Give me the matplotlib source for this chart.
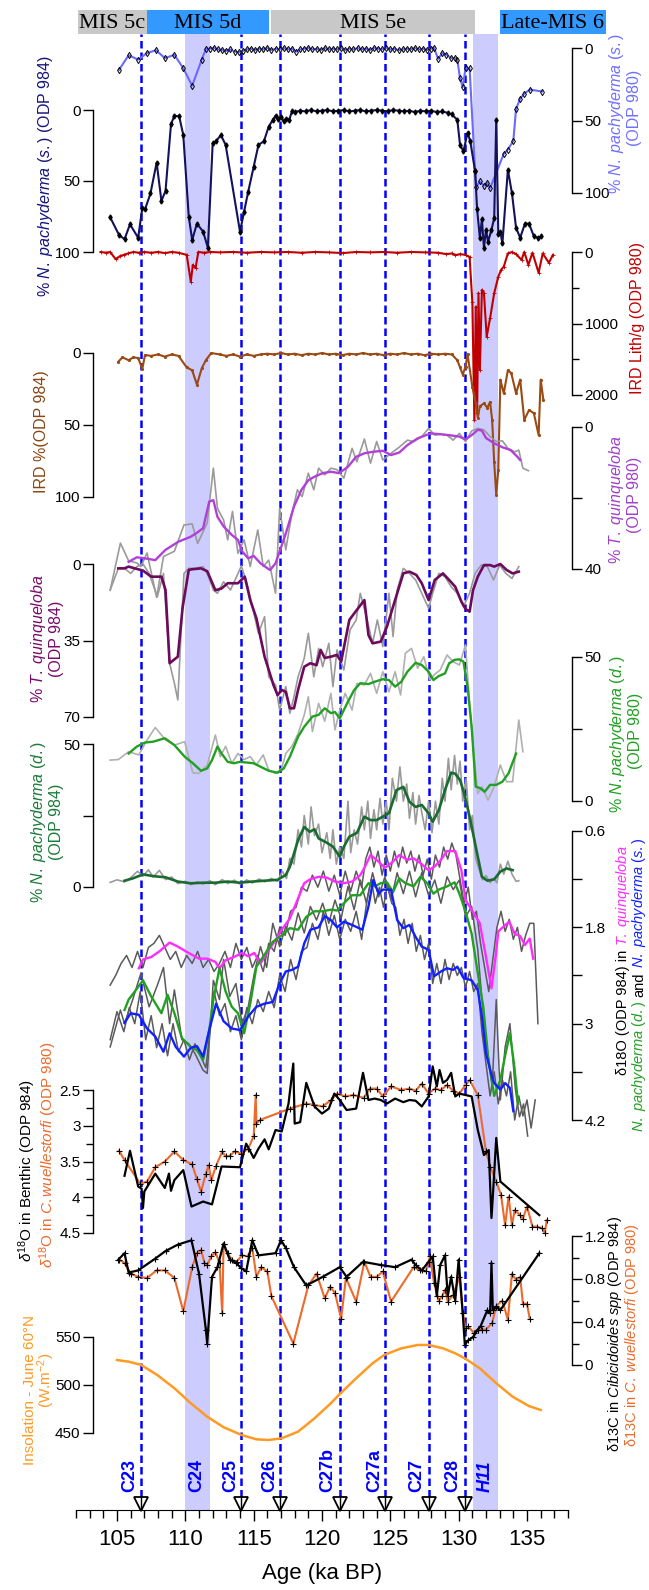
import matplotlib
matplotlib.use('Agg')
import matplotlib.pyplot as plt
from matplotlib.patches import Rectangle

plt.rcParams['font.family'] = ['Liberation Sans', 'DejaVu Sans']
plt.rcParams['mathtext.fontset'] = 'custom'
plt.rcParams['mathtext.rm'] = 'Liberation Sans'
plt.rcParams['mathtext.it'] = 'Liberation Sans:italic'
plt.rcParams['mathtext.bf'] = 'Liberation Sans:bold'

# ---------------- data (age ka BP, value) ----------------
events = [106.75, 114.1, 116.95, 121.3, 124.6, 127.8, 130.45]
event_labels = ['C23', 'C24', 'C25', 'C26', 'C27b', 'C27a', 'C27', 'C28', 'H11']
event_label_ages = [105.95, 110.85, 113.3, 116.2, 120.4, 123.85, 126.9, 129.55, 131.95]
bands = [(110.0, 111.8), (131.05, 132.9)]
mis_names = ['MIS 5c', 'MIS 5d', 'MIS 5e', 'Late-MIS 6']
mis_spans = [(102.15, 107.2), (107.2, 116.1), (116.3, 131.2), (133.0, 140.8)]
mis_colors = ['#c8c8c8', '#3399ff', '#c8c8c8', '#3399ff']

np980s = [(105.15, 15), (105.85, 5), (106.55, 8), (107.2, 3.5), (107.85, 1.5), (108.5, 7), (109.2, 4.7),
          (109.85, 14), (110.5, 26), (111.2, 8), (111.5, 0.7), (111.8, 0.5), (112.1, 0), (112.4, 1), (112.7, 1.5),
          (113.0, 2), (113.3, 1), (113.6, 2.5), (113.9, 3), (114.2, 2), (114.5, 1), (114.8, 0.5), (115.1, 1.5),
          (115.4, 0.5), (115.7, 1), (116.0, 0), (116.3, 1.5), (116.6, 0.5), (116.9, 1), (117.2, 0), (117.5, 1),
          (117.8, 0.5), (118.1, 2.5), (118.4, 1), (118.7, 0.5), (119.0, 0), (119.3, 1), (119.6, 0.5), (119.9, 1.5),
          (120.2, 0), (120.5, 1), (120.8, 0.5), (121.1, 1), (121.4, 0), (121.7, 1.5), (122.0, 0.5), (122.3, 1),
          (122.6, 0), (122.9, 1), (123.2, 0.5), (123.5, 1.5), (123.8, 0), (124.1, 0.5), (124.4, 1), (124.7, 0),
          (125.0, 1), (125.3, 0.5), (125.6, 1.5), (125.9, 1), (126.2, 0.5), (126.5, 1), (126.8, 0), (127.1, 1),
          (127.4, 0.5), (127.7, 1.5), (128.0, 0.5), (128.2, 0), (128.5, 7.5), (128.8, 3.5), (129.1, 4.7),
          (129.45, 7), (129.75, 7), (129.9, 8), (130.1, 21), (130.3, 27), (130.5, 14), (130.8, 14), (131.2, 85),
          (131.3, 95.6), (131.55, 92), (131.85, 95), (132.1, 93), (132.3, 96.6), (133.3, 73), (133.6, 70),
          (134.0, 64), (134.2, 42), (134.5, 35), (134.8, 31.5), (135.2, 28.7), (136.1, 30)]

np984s = [(104.5, 75.6), (105.15, 88), (105.55, 91), (105.95, 80.5), (106.55, 90), (106.85, 69), (107.05, 70),
          (107.45, 58.7), (107.9, 37), (108.25, 64), (108.55, 57), (108.95, 10), (109.2, 4), (109.55, 4.5),
          (109.85, 17.6), (110.25, 75), (110.5, 91.5), (110.85, 80), (111.3, 85.7), (111.65, 97), (112.0, 23.5),
          (112.25, 22), (112.6, 17.6), (112.95, 24.6), (114.0, 85.7), (114.3, 71.6), (114.6, 57.5), (115.0, 40),
          (115.35, 24.6), (115.75, 22), (116.1, 11.7), (116.4, 7), (116.6, 4), (116.8, 6), (117.0, 5), (117.2, 8),
          (117.4, 6), (117.6, 7), (117.8, 1), (118.0, 1.5), (118.4, 0.5), (118.8, 1), (119.2, 0), (119.6, 1),
          (120.0, 0.5), (120.4, 0), (120.8, 1), (121.2, 0.5), (121.6, 0), (122.0, 1), (122.4, 0.5), (122.8, 0),
          (123.2, 1), (123.6, 0.5), (124.0, 0), (124.4, 0.5), (124.8, 1), (125.2, 0), (125.6, 0.5), (126.0, 1),
          (126.4, 0.5), (126.8, 1.5), (127.2, 0.5), (127.6, 1), (128.0, 0.5), (128.4, 1.5), (128.8, 1), (129.2, 2),
          (129.5, 3), (129.9, 7), (130.1, 24.6), (130.35, 29), (130.65, 16), (130.85, 22), (131.2, 43),
          (131.35, 70), (131.55, 90), (131.7, 77), (131.85, 97), (132.0, 84.5), (132.15, 92.7), (132.4, 84.5),
          (132.6, 76), (132.75, 7), (132.9, 87), (133.05, 85.7), (133.2, 94), (133.6, 42), (133.9, 58.7),
          (134.2, 83), (134.5, 90), (134.85, 80), (135.15, 80), (135.5, 89), (135.8, 90), (136.05, 89)]

ird980 = [(103.8, 0), (104.2, 10), (104.5, 0), (104.9, 100), (105.2, 60), (105.5, 40), (105.8, 20), (106.2, 0),
          (106.6, 10), (107.0, 0), (107.5, 10), (108.0, 0), (108.5, 15), (109.0, 0), (109.5, 10), (110.1, 40),
          (110.4, 415), (110.55, 180), (110.75, 225), (110.95, 0), (111.4, 10), (111.8, 0), (112.5, 5), (113.5, 0),
          (114.5, 10), (115.5, 0), (116.5, 5), (117.5, 0), (118.5, 10), (119.5, 0), (120.5, 5), (121.5, 15),
          (122.5, 0), (123.5, 5), (124.5, 0), (125.5, 10), (126.5, 0), (127.5, 5), (128.5, 10), (129.1, 30),
          (129.5, 20), (129.75, 45), (130.1, 30), (130.5, 40), (130.8, 70), (131.0, 700), (131.15, 2350),
          (131.25, 765), (131.35, 2250), (131.45, 575), (131.55, 1650), (131.7, 530), (131.85, 575),
          (132.05, 1185), (132.3, 925), (132.6, 575), (132.9, 345), (133.1, 250), (133.3, 205), (133.6, 20),
          (133.9, 0), (134.2, 30), (134.6, 110), (134.8, 0), (135.1, 180), (135.4, 10), (135.85, 290),
          (136.15, 20), (136.6, 150), (136.9, 40)]

ird984 = [(105.1, 6), (105.4, 3), (105.85, 5), (106.2, 3), (106.55, 3.5), (106.85, 11), (107.05, 1.4), (107.5, 2),
          (108.0, 1), (108.5, 2.5), (109.0, 1), (109.5, 2), (110.1, 10), (110.5, 12), (110.85, 22), (111.2, 10.6),
          (111.5, 5), (111.9, 0), (112.5, 1), (113.0, 2), (113.5, 1), (114.0, 2.5), (114.5, 1), (115.0, 2),
          (115.5, 1), (116.0, 0.5), (116.5, 1), (117.0, 0), (117.5, 1), (118.0, 0.5), (118.5, 1.5), (119.0, 0.5),
          (119.5, 1), (120.0, 0), (120.5, 1), (121.0, 0.5), (121.5, 1.5), (122.0, 0.5), (122.5, 1), (123.0, 0),
          (123.5, 1), (124.0, 0.5), (124.5, 1.5), (125.0, 0.5), (125.5, 1), (126.0, 0), (126.5, 1), (127.0, 0.5),
          (127.5, 1.5), (128.0, 0.5), (128.5, 1), (129.0, 0.5), (129.5, 1), (129.9, 5), (130.1, 10), (130.3, 15),
          (130.5, 9.5), (130.65, 1), (131.0, 23.4), (131.25, 35), (131.4, 45), (131.55, 37), (131.85, 35),
          (132.1, 38), (132.3, 34), (132.45, 46.5), (132.6, 76), (132.75, 98.6), (132.9, 81), (133.05, 18.5),
          (133.3, 28), (133.6, 12), (133.85, 14), (134.2, 28), (134.5, 18.5), (134.8, 46.5), (135.15, 39.6),
          (135.5, 41.8), (135.85, 57), (136.0, 18.5), (136.2, 32.6)]

tq980_smooth = [(105.85, 38), (106.45, 36.7), (107.05, 37), (107.8, 37.5), (108.55, 34.6), (109.5, 32.3),
                (110.4, 30.9), (110.85, 29.8), (111.3, 28.5), (111.75, 21), (112.05, 20.6), (112.35, 25.3),
                (112.8, 28), (113.4, 30.4), (113.85, 31.8), (114.15, 35), (114.6, 37), (115.0, 36.3),
                (115.5, 38.4), (116.2, 40.3), (116.6, 38.4), (117.35, 30), (117.95, 22.4), (118.5, 17.7),
                (119.0, 15), (119.45, 14), (120.05, 13), (120.65, 12.6), (121.25, 13), (121.9, 11.2), (122.5, 8.4),
                (123.1, 7.4), (123.7, 7), (124.45, 6.7), (125.05, 7.9), (125.65, 7.2), (126.25, 5.1), (127.0, 3.2),
                (127.95, 1.8), (128.55, 2), (129.3, 2.3), (130.05, 2.7), (130.5, 3.5), (130.95, 2.3), (131.4, 0.8),
                (131.7, 1), (132.0, 3.1), (132.6, 4.6), (133.2, 5.7), (133.8, 6.5), (134.3, 8.4), (134.5, 9.3)]

tq980_raw = [(104.5, 46), (105.25, 32.7), (105.85, 37.7), (106.45, 38.3), (106.75, 39.3), (107.2, 35.5),
             (107.9, 48), (108.4, 36.5), (109.2, 35), (109.9, 27.6), (110.5, 27.3), (110.9, 32.8), (111.6, 27),
             (112.05, 11.6), (112.35, 22.9), (112.8, 26.2), (113.1, 31.8), (113.45, 23.8), (113.85, 35.6),
             (114.3, 31.8), (114.75, 39.3), (115.3, 29), (115.7, 39.3), (116.1, 37.5), (116.6, 46.8), (116.9, 22.9),
             (117.35, 34.6), (117.8, 24.3), (118.2, 17.7), (118.55, 19.6), (119.0, 13), (119.4, 17.7),
             (119.75, 11.6), (120.2, 13.5), (120.65, 11.6), (121.1, 12), (121.6, 14.4), (122.2, 6), (122.55, 9.8),
             (123.1, 3.4), (123.55, 10.2), (124.0, 4.1), (124.45, 9.3), (125.05, 7.4), (125.65, 5.7),
             (126.25, 3.7), (126.7, 4.1), (127.3, 2.7), (127.8, 0.4), (128.25, 2.3), (128.7, 2), (129.15, 2.3),
             (129.6, 3.7), (130.05, 1.8), (130.5, 4.1), (130.95, 1.1), (131.4, 0.4), (131.85, 0.8), (132.3, 2.7),
             (132.75, 4.1), (133.2, 3.9), (133.6, 6), (134.1, 7), (134.4, 6.5), (134.7, 11.6), (135.1, 12.3)]

tq984_smooth = [(105.1, 2), (105.55, 2), (105.85, 1.2), (106.3, 2), (106.9, 3), (107.5, 5.8), (108.25, 5.8),
                (108.55, 11.9), (108.85, 45.4), (109.45, 42.4), (109.8, 20), (110.25, 2.7), (110.5, 2.4),
                (111.15, 2), (111.6, 3.3), (112.2, 12), (112.65, 11.2), (113.1, 8.8), (113.85, 8.8), (114.35, 5.8),
                (114.75, 16.5), (115.2, 24.8), (115.8, 42.4), (116.45, 55.4), (116.75, 60), (117.05, 57.6),
                (117.35, 58.5), (117.65, 66), (117.95, 66), (118.25, 57.6), (118.7, 47), (119.15, 45.4),
                (119.6, 46.3), (119.9, 39.3), (120.2, 43), (120.65, 42.4), (121.1, 41.6), (121.4, 44.7), (122.0, 25.6),
                (122.55, 21), (123.1, 16.5), (123.4, 32.5), (123.7, 36.3), (124.3, 35.5), (124.75, 28.7),
                (125.5, 13.4), (125.95, 4.3), (126.4, 3.5), (126.9, 5), (127.3, 8.8), (127.8, 16.5), (128.25, 7.3),
                (128.85, 4.3), (129.3, 7.3), (129.75, 10.4), (130.2, 17.2), (130.5, 20.6), (130.8, 21.8),
                (131.05, 12), (131.4, 5.8), (131.85, 0.5), (132.3, 0.5), (132.6, 1.2), (133.05, 0), (133.5, 2.7),
                (133.95, 4.3), (134.4, 3.5)]

tq984_raw = [(104.5, 11.9), (105.1, 2), (105.55, 2), (106.0, 4.3), (106.45, 1.2), (106.9, 0), (107.35, 4.3),
             (107.95, 15), (108.4, 4.3), (108.85, 45.4), (109.2, 54.6), (109.45, 62.2), (109.9, 4.3), (110.25, 2),
             (110.7, 2), (111.3, 1.2), (111.6, 4.3), (112.05, 11.9), (112.35, 13.4), (112.8, 8.1), (113.3, 11.9),
             (113.75, 5.8), (114.1, 0.9), (114.5, 8.8), (114.9, 19.5), (115.35, 31.7), (115.8, 24.1),
             (116.1, 51.6), (116.6, 55.4), (116.9, 66.8), (117.35, 56.1), (117.65, 68.3), (117.95, 60.7),
             (118.25, 51.6), (118.7, 43.1), (119.0, 31.7), (119.4, 51.6), (119.75, 38.6), (120.05, 47),
             (120.5, 36.3), (120.8, 56.1), (121.1, 39.3), (121.6, 48.5), (122.05, 30.2), (122.5, 25.6),
             (122.8, 13.4), (123.25, 24.1), (123.7, 36.3), (124.05, 25.6), (124.45, 37.8), (124.9, 13.4),
             (125.2, 33.2), (125.5, 11.9), (125.95, 2), (126.4, 4.3), (126.85, 7.3), (127.3, 13.4), (127.8, 20.3),
             (128.1, 13.4), (128.55, 4.3), (129.0, 5.8), (129.45, 10.4), (129.9, 13.4), (130.35, 19.5),
             (130.8, 13.4), (131.2, 4.3), (131.65, 0.5), (132.1, 1.2), (132.55, 7.3), (133.0, 0.5), (133.45, 4.3),
             (133.9, 6.6), (134.4, 1.2)]

np980d_smooth = [(105.85, 16.5), (106.45, 18.9), (107.05, 20.3), (107.65, 20.6), (108.5, 21.8), (109.2, 19.4),
                 (109.95, 15.4), (110.55, 13.1), (111.15, 10.5), (111.6, 11.3), (111.95, 14.2), (112.35, 18.9),
                 (112.65, 16.5), (113.1, 13.6), (113.55, 13.1), (114.0, 13.6), (114.6, 13.3), (115.0, 13.1),
                 (115.5, 11.9), (116.1, 10.5), (116.75, 9.8), (117.2, 11.3), (117.65, 15.4), (118.25, 22.3),
                 (118.7, 25.8), (119.3, 29.3), (119.75, 29.9), (120.2, 32.2), (120.65, 30.5), (120.95, 30.9),
                 (121.3, 28.7), (121.9, 34.5), (122.35, 38.5), (122.8, 40.9), (123.4, 40.6), (123.85, 41.4),
                 (124.45, 42.3), (124.9, 42), (125.35, 39.7), (125.8, 41.4), (126.25, 44.9), (126.85, 48),
                 (127.3, 47.2), (127.8, 44.9), (128.15, 42), (128.55, 43.4), (129.0, 44.3), (129.3, 47.8),
                 (129.7, 49), (130.05, 49.2), (130.35, 48.4), (130.65, 39.7), (130.95, 25.8), (131.25, 5),
                 (131.6, 4.4), (131.9, 3.2), (132.3, 5.6), (132.75, 5.6), (133.2, 6.7), (133.65, 9.6), (134.2, 16.5)]

np980d_raw = [(104.5, 14.2), (105.1, 14.4), (105.85, 17.1), (106.6, 16), (107.2, 21.2), (107.8, 25.5),
              (108.55, 21.2), (109.2, 19.4), (109.95, 20.6), (110.55, 9.8), (111.0, 9.6), (111.6, 12.5),
              (112.2, 22.9), (112.55, 15.4), (112.95, 19), (113.4, 13.1), (113.85, 16.5), (114.3, 14.4),
              (114.75, 15.4), (115.2, 12.5), (115.7, 16), (116.1, 10.7), (116.6, 9.6), (117.05, 11.3),
              (117.35, 16.5), (117.8, 19), (118.25, 23.4), (118.7, 29.9), (119.0, 36.2), (119.3, 24.1),
              (119.75, 33.9), (120.2, 27.7), (120.65, 37.4), (120.95, 24.7), (121.3, 31.6), (121.7, 37.4),
              (122.2, 31.6), (122.55, 40.8), (123.1, 40.3), (123.55, 44.3), (124.0, 37.4), (124.45, 44.9),
              (124.9, 37.9), (125.35, 44.9), (125.75, 36.8), (126.1, 51.3), (126.55, 53), (127.0, 46.1),
              (127.45, 50.1), (127.9, 42), (128.2, 43.8), (128.65, 45.5), (129.15, 50.7), (129.6, 48.4),
              (130.05, 47.2), (130.5, 54.2), (130.8, 33.9), (131.1, 16.5), (131.4, 2.6), (131.7, 5), (132.15, 0.3),
              (132.6, 5), (133.05, 12.5), (133.5, 6.7), (133.95, 6.7), (134.4, 28.1), (134.7, 17.1)]

np984d_smooth = [(105.55, 2.2), (106.15, 3), (106.9, 4.4), (107.65, 3.8), (108.55, 3.4), (109.45, 1.9),
                 (110.4, 1.3), (111.3, 1.5), (112.2, 1.5), (113.1, 1.9), (114.0, 1.5), (114.9, 1.9), (115.8, 2.2),
                 (116.75, 2.5), (117.35, 4.2), (117.65, 7.1), (117.95, 11.7), (118.25, 16.4), (118.7, 21),
                 (119.1, 19.3), (119.45, 20.2), (119.75, 17), (120.35, 15.5), (120.8, 14.1), (121.3, 10.6),
                 (121.6, 14.1), (122.0, 17.6), (122.55, 18.9), (123.1, 24.6), (123.55, 23.4), (124.0, 23.4),
                 (124.45, 24.6), (124.9, 25.8), (125.45, 33.9), (125.95, 35), (126.4, 29.8), (126.85, 28),
                 (127.3, 28.7), (127.8, 25.8), (128.1, 22.8), (128.55, 26.9), (129.0, 33.9), (129.45, 40),
                 (129.75, 39.6), (130.1, 37.4), (130.4, 32.8), (130.8, 24.6), (131.25, 14.1), (131.7, 3.6),
                 (132.1, 2.2), (132.6, 2.7), (133.05, 5.4), (133.5, 6.5), (133.95, 5.9)]

np984d_raw = [(104.5, 1.6), (105.0, 2.5), (105.55, 1.8), (106.0, 3.2), (106.5, 5.5), (106.9, 3.8), (107.3, 6),
              (107.65, 3.5), (108.1, 5.8), (108.55, 2.6), (109.0, 3.5), (109.45, 1.2), (110.0, 2.0), (110.4, 0.8),
              (110.9, 1.8), (111.3, 1.0), (111.8, 2.2), (112.2, 0.8), (112.7, 2.6), (113.1, 1.2), (113.6, 2.4),
              (114.0, 1.0), (114.5, 2.5), (114.9, 1.4), (115.4, 2.8), (115.8, 1.8), (116.3, 3.0), (116.75, 2.0),
              (117.1, 5.5), (117.4, 3.0), (117.65, 10), (117.95, 8), (118.25, 20), (118.5, 14), (118.7, 25),
              (119.0, 15), (119.2, 28), (119.45, 18), (119.75, 22), (120.0, 12), (120.35, 19), (120.6, 10),
              (120.8, 20), (121.05, 8), (121.3, 14), (121.6, 10), (121.9, 30), (122.1, 12), (122.35, 20),
              (122.6, 15), (122.9, 28), (123.1, 20), (123.35, 30), (123.55, 17), (123.8, 27), (124.0, 20),
              (124.25, 31), (124.45, 22), (124.7, 30), (124.9, 20), (125.15, 38), (125.45, 30), (125.7, 42),
              (125.95, 30), (126.2, 36), (126.4, 24), (126.65, 33), (126.85, 22), (127.1, 32), (127.3, 26),
              (127.55, 20), (127.8, 30), (128.05, 19), (128.3, 30), (128.55, 22), (128.8, 38), (129.0, 30),
              (129.25, 45), (129.45, 34), (129.7, 46), (129.9, 36), (130.1, 44), (130.3, 30), (130.55, 38),
              (130.8, 20), (131.0, 25), (131.25, 10), (131.5, 6), (131.75, 2.5), (132.0, 4), (132.3, 1.5),
              (132.55, 3.0), (132.8, 1.5), (133.05, 8), (133.3, 4.5), (133.6, 9), (133.9, 4.5), (134.2, 2.0),
              (134.4, 2.2)]

d18o_tq = [(106.6, 2.31), (106.9, 2.2), (107.5, 2.17), (108.1, 2.1), (108.85, 1.99), (109.45, 2.04), (110.25, 2.12),
           (111.0, 2.19), (111.6, 2.19), (112.2, 2.23), (112.5, 2.31), (112.95, 2.21), (113.55, 2.17),
           (114.15, 2.12), (114.6, 2.16), (115.05, 2.12), (115.5, 2.25), (115.95, 2.12), (116.6, 1.96),
           (117.05, 1.83), (117.65, 1.69), (118.25, 1.44), (118.7, 1.25), (119.15, 1.2), (119.75, 1.17),
           (120.35, 1.18), (120.95, 1.23), (121.6, 1.25), (122.2, 1.23), (122.8, 1.15), (123.1, 1.06), (123.55, 0.9),
           (124.0, 0.96), (124.6, 1.06), (125.2, 0.98), (125.65, 0.9), (126.25, 0.96), (126.7, 0.94), (127.2, 1.0),
           (127.8, 1.09), (128.25, 1.04), (128.7, 0.96), (129.15, 0.85), (129.75, 0.85), (130.2, 1.09),
           (130.5, 1.46), (130.95, 1.58), (131.55, 1.75), (132.0, 2.17), (132.4, 2.56), (132.7, 2.17),
           (132.9, 1.85), (133.35, 1.78), (133.7, 1.73), (134.1, 1.88), (134.5, 1.91), (134.85, 2.02),
           (135.2, 1.94), (135.45, 2.19)]

d18o_npd = [(105.55, 2.83), (105.85, 2.7), (106.3, 2.6), (106.9, 2.46), (107.5, 2.66), (108.25, 2.87), (108.7, 2.64),
            (109.2, 2.87), (109.75, 3.18), (110.4, 3.29), (110.85, 3.33), (111.3, 3.45), (111.75, 3.08),
            (112.05, 2.7), (112.5, 2.31), (112.95, 2.6), (113.4, 2.79), (113.85, 2.87), (114.3, 3.12),
            (114.75, 2.75), (115.2, 2.29), (115.8, 2.14), (116.4, 1.98), (117.05, 1.9), (117.65, 1.81),
            (118.25, 1.83), (118.85, 1.67), (119.45, 1.6), (120.05, 1.6), (120.65, 1.58), (121.1, 1.59),
            (121.6, 1.5), (122.2, 1.4), (122.8, 1.4), (123.4, 1.25), (123.85, 1.29), (124.3, 1.25), (124.75, 1.24),
            (125.2, 1.36), (125.65, 1.19), (126.1, 1.25), (126.7, 1.29), (127.2, 1.17), (127.7, 1.25),
            (128.15, 1.38), (128.55, 1.33), (129.15, 1.29), (129.7, 1.24), (130.05, 1.38), (130.5, 1.6),
            (130.95, 1.88), (131.4, 2.37), (131.8, 2.79), (132.15, 3.41), (132.6, 3.9), (133.05, 3.7),
            (133.4, 3.4), (133.75, 3.12), (134.05, 3.5), (134.35, 4.0)]

d18o_nps = [(105.55, 2.99), (106.0, 2.87), (106.6, 2.89), (107.2, 3.06), (107.8, 3.16), (108.4, 3.35), (108.85, 3.12),
            (109.3, 3.29), (109.9, 3.41), (110.4, 3.3), (110.85, 3.28), (111.3, 3.41), (111.75, 3.08),
            (112.25, 2.75), (112.8, 2.97), (113.4, 3.06), (114.0, 3.08), (114.6, 2.91), (115.2, 2.79),
            (115.8, 2.75), (116.4, 2.73), (116.9, 2.5), (117.35, 2.35), (117.8, 2.33), (118.25, 2.29), (118.7, 2.0),
            (119.15, 1.83), (119.75, 1.8), (120.2, 1.66), (120.65, 1.71), (121.1, 1.8), (121.6, 1.73),
            (122.2, 1.77), (122.95, 1.83), (123.4, 1.54), (123.75, 1.21), (124.15, 1.38), (124.45, 1.33),
            (125.05, 1.33), (125.5, 1.71), (125.95, 1.81), (126.4, 1.77), (126.85, 1.92), (127.3, 2.04),
            (127.8, 2.08), (128.2, 2.41), (128.7, 2.35), (129.15, 2.31), (129.6, 2.33), (129.9, 2.29),
            (130.35, 2.43), (130.95, 2.46), (131.4, 2.58), (131.7, 2.91), (132.0, 3.37), (132.4, 3.64),
            (132.6, 3.74), (133.05, 3.82), (133.4, 3.74), (133.75, 3.8), (134.0, 4.09)]

d18o_raw_tq = [(104.5, 2.52), (104.9, 2.4), (105.3, 2.25), (105.7, 2.15), (106.1, 2.3), (106.5, 2.1), (106.9, 2.3),
               (107.3, 2.05), (107.7, 2.0), (108.1, 1.9), (108.5, 2.05), (108.9, 2.2), (109.3, 2.1), (109.7, 2.3),
               (110.1, 2.15), (110.5, 2.25), (110.9, 2.1), (111.3, 2.3), (111.7, 2.2), (112.1, 2.35), (112.5, 2.25),
               (112.9, 2.1), (113.3, 2.3), (113.7, 2.0), (114.1, 2.2), (114.5, 2.05), (114.9, 2.3), (115.3, 2.15),
               (115.7, 2.35), (116.1, 2.0), (116.5, 2.1), (116.9, 1.8), (117.3, 1.9), (117.7, 1.6), (118.1, 1.55),
               (118.5, 1.3), (118.9, 1.35), (119.3, 1.15), (119.7, 1.3), (120.1, 1.1), (120.5, 1.35), (120.9, 1.15),
               (121.3, 1.4), (121.7, 1.1), (122.1, 1.35), (122.5, 1.1), (122.9, 1.3), (123.2, 0.95), (123.5, 0.8),
               (123.8, 1.05), (124.1, 0.85), (124.4, 1.15), (124.7, 0.9), (125.0, 1.1), (125.3, 0.85), (125.6, 1.05),
               (125.9, 0.8), (126.2, 1.0), (126.5, 0.85), (126.8, 1.1), (127.1, 0.9), (127.4, 1.15), (127.7, 0.95),
               (128.0, 1.2), (128.3, 0.9), (128.6, 1.05), (128.9, 0.8), (129.2, 0.95), (129.5, 0.75), (129.8, 0.9),
               (130.1, 1.2), (130.4, 1.5), (130.7, 1.3), (131.0, 1.7), (131.3, 1.6), (131.6, 2.0), (131.9, 2.3),
               (132.2, 2.6), (132.5, 2.2), (132.8, 1.8), (133.1, 1.6), (133.4, 1.85), (133.7, 1.7), (134.0, 1.95),
               (134.3, 1.8), (134.6, 2.1), (134.9, 1.9), (135.2, 1.75), (135.5, 1.75), (135.8, 3.0)]

d18o_raw_npd = [(104.5, 3.29), (105.25, 2.83), (105.55, 3.0), (106.15, 2.7), (106.75, 2.37), (107.35, 2.79),
                (108.0, 2.5), (108.4, 2.3), (108.85, 3.0), (109.2, 2.58), (109.75, 3.2), (110.25, 3.25),
                (110.7, 3.37), (111.3, 3.58), (111.6, 3.62), (112.05, 2.46), (112.5, 2.7), (112.8, 2.2),
                (113.25, 2.66), (113.7, 2.5), (114.15, 3.0), (114.6, 2.79), (115.05, 2.37), (115.5, 2.04),
                (115.95, 2.3), (116.4, 1.75), (116.9, 2.04), (117.35, 1.79), (117.8, 1.96), (118.25, 1.62),
                (118.7, 1.87), (119.15, 1.54), (119.6, 1.71), (120.05, 1.5), (120.5, 1.75), (120.95, 1.46),
                (121.4, 1.69), (121.9, 1.29), (122.35, 1.58), (122.8, 1.21), (123.25, 1.5), (123.7, 1.12),
                (124.15, 1.42), (124.6, 1.17), (125.05, 1.46), (125.5, 1.12), (125.95, 1.38), (126.4, 1.1),
                (126.85, 1.42), (127.3, 1.12), (127.8, 1.4), (128.25, 1.21), (128.7, 1.5), (129.15, 1.17),
                (129.6, 1.33), (130.05, 1.21), (130.5, 1.67), (130.95, 1.54), (131.4, 2.08), (131.7, 2.7),
                (132.0, 3.2), (132.45, 3.78), (132.75, 2.7), (133.05, 3.95), (133.4, 3.29), (133.75, 3.0),
                (134.15, 3.82), (134.45, 4.16), (134.75, 4.0), (135.05, 4.4)]

d18o_raw_nps = [(104.5, 3.2), (105.0, 2.85), (105.5, 3.1), (105.9, 2.8), (106.3, 3.0), (106.7, 2.6), (107.1, 3.2),
                (107.5, 2.9), (107.9, 3.3), (108.3, 3.0), (108.7, 3.4), (109.1, 3.0), (109.5, 3.35), (109.9, 3.2),
                (110.3, 3.45), (110.7, 3.25), (111.1, 3.4), (111.5, 3.55), (111.8, 3.1), (112.1, 2.6), (112.5, 2.9),
                (112.9, 2.75), (113.3, 3.1), (113.7, 2.9), (114.1, 3.2), (114.5, 2.8), (114.9, 3.0), (115.3, 2.7),
                (115.7, 2.85), (116.1, 2.6), (116.5, 2.8), (116.9, 2.4), (117.3, 2.6), (117.7, 2.2), (118.1, 2.45),
                (118.5, 2.1), (118.9, 2.05), (119.3, 1.75), (119.7, 1.95), (120.1, 1.6), (120.5, 1.9), (120.9, 1.65),
                (121.3, 1.95), (121.7, 1.7), (122.1, 1.85), (122.5, 1.6), (122.9, 1.95), (123.3, 1.45), (123.6, 1.2),
                (123.9, 1.5), (124.2, 1.3), (124.5, 1.55), (124.8, 1.25), (125.1, 1.5), (125.4, 1.55), (125.7, 1.9),
                (126.0, 1.7), (126.3, 2.0), (126.6, 1.75), (126.9, 2.1), (127.2, 1.9), (127.5, 2.2), (127.8, 2.0),
                (128.1, 2.5), (128.4, 2.25), (128.7, 2.5), (129.0, 2.2), (129.3, 2.45), (129.6, 2.25), (129.9, 2.4),
                (130.2, 2.3), (130.5, 2.55), (130.8, 2.35), (131.1, 2.6), (131.4, 2.5), (131.7, 3.1), (132.0, 3.5),
                (132.3, 3.9), (132.6, 3.6), (132.9, 4.0), (133.2, 3.7), (133.5, 3.9), (133.8, 3.6), (134.1, 4.2),
                (134.4, 3.9), (134.7, 4.15), (135.0, 3.95), (135.3, 4.3), (135.6, 3.95)]

benth_cw = [(105.15, 3.35), (105.55, 3.48), (106.7, 3.81), (107.2, 3.78), (107.8, 3.58), (108.5, 3.5), (109.2, 3.36),
            (109.85, 3.48), (110.5, 3.54), (110.85, 3.75), (111.15, 3.92), (111.5, 3.67), (111.7, 3.55),
            (111.9, 3.76), (112.25, 3.56), (112.7, 3.36), (112.95, 3.43), (113.25, 3.42), (113.6, 3.36),
            (114.1, 3.39), (114.6, 3.32), (115.0, 3.15), (115.15, 2.57), (115.2, 2.97), (115.45, 2.92),
            (117.65, 2.76), (118.85, 2.69), (119.45, 2.71), (120.05, 2.73), (120.65, 2.64), (121.1, 2.55),
            (121.7, 2.59), (122.3, 2.57), (123.05, 2.61), (123.5, 2.48), (124.0, 2.48), (124.45, 2.59),
            (125.05, 2.45), (125.8, 2.5), (126.4, 2.48), (126.85, 2.51), (127.3, 2.41), (127.8, 2.55),
            (128.25, 2.48), (128.7, 2.5), (129.15, 2.43), (129.6, 2.51), (130.05, 2.55), (130.5, 2.43),
            (130.8, 2.36), (131.4, 2.57), (132.0, 3.36), (132.3, 3.57), (132.75, 3.78), (133.1, 3.97),
            (133.4, 4.39), (133.65, 3.99), (133.9, 4.39), (134.1, 4.18), (134.5, 4.25), (134.7, 4.3),
            (135.0, 4.13), (135.4, 4.41), (135.7, 4.41), (136.1, 4.43), (136.3, 4.5), (136.45, 4.32)]

benth_984 = [(105.55, 3.7), (105.95, 3.35), (106.55, 3.85), (106.8, 3.88), (106.9, 4.15), (107.0, 3.92),
             (107.8, 3.67), (108.5, 3.87), (108.8, 3.67), (108.95, 3.91), (109.2, 3.76), (109.85, 3.62),
             (110.45, 4.13), (111.3, 4.06), (111.95, 4.1), (112.65, 3.57), (114.0, 3.58), (114.45, 3.25),
             (115.0, 3.45), (115.35, 3.32), (115.8, 3.19), (116.1, 3.33), (116.6, 3.06), (117.05, 3.08),
             (117.55, 2.69), (117.9, 2.13), (118.0, 2.97), (118.4, 2.95), (118.85, 2.4), (119.45, 2.73),
             (120.0, 2.83), (120.5, 2.76), (120.9, 2.55), (121.3, 2.64), (121.8, 2.78), (122.5, 2.76),
             (123.0, 2.26), (123.4, 2.64), (123.85, 2.62), (124.3, 2.64), (124.75, 2.69), (125.35, 2.62),
             (125.95, 2.67), (126.4, 2.64), (126.85, 2.65), (127.3, 2.73), (127.8, 2.59), (128.1, 2.17),
             (128.4, 2.45), (128.6, 2.22), (128.85, 2.4), (129.15, 2.36), (129.45, 2.26), (129.75, 2.59),
             (130.05, 2.55), (130.5, 2.57), (130.95, 2.59), (131.4, 3.06), (131.85, 3.41), (132.2, 3.34),
             (132.4, 4.29), (132.5, 3.99), (132.75, 3.17), (133.05, 3.78), (135.9, 4.25)]

d13c_cw = [(105.15, 0.98), (105.55, 0.95), (106.0, 0.85), (106.55, 0.82), (107.2, 0.81), (107.9, 0.88), (108.5, 0.88),
           (109.2, 0.81), (109.85, 0.5), (110.5, 0.91), (110.85, 1.04), (111.15, 1.07), (111.4, 0.95),
           (111.6, 0.93), (111.9, 1.01), (112.2, 1.05), (112.5, 0.95), (112.7, 0.48), (112.8, 1.13), (113.1, 1.04),
           (113.4, 0.98), (113.75, 0.96), (114.15, 1.02), (114.55, 1.01), (114.9, 1.09), (115.2, 0.82),
           (115.55, 0.91), (116.0, 0.87), (116.3, 0.64), (117.9, 0.2), (119.0, 0.74), (119.6, 0.85),
           (120.2, 0.62), (120.6, 0.73), (120.95, 0.67), (121.4, 0.43), (121.75, 0.81), (122.5, 0.59),
           (123.1, 0.96), (123.55, 0.82), (124.0, 0.82), (124.45, 0.87), (125.05, 0.59), (126.7, 0.91),
           (127.15, 0.88), (127.6, 0.87), (127.9, 1.01), (128.2, 0.76), (128.55, 0.6), (128.8, 0.64),
           (129.0, 0.7), (129.2, 0.59), (129.6, 0.65), (130.05, 0.82), (130.3, 0.48), (130.5, 0.34),
           (130.7, 0.36), (131.1, 0.3), (131.4, 0.33), (131.7, 0.33), (132.0, 0.33), (132.45, 0.39),
           (132.75, 0.55), (133.2, 0.6), (133.6, 0.42), (133.9, 0.85), (134.2, 0.79), (134.5, 0.82),
           (134.7, 0.57), (135.0, 0.57), (135.2, 0.43)]

d13c_984 = [(105.1, 0.98), (105.55, 1.04), (105.85, 0.86), (106.55, 0.88), (107.8, 0.99), (108.55, 1.06),
            (109.45, 1.12), (110.45, 1.16), (111.0, 0.85), (111.5, 0.33), (111.6, 0.2), (111.95, 0.82),
            (112.35, 0.91), (112.8, 1.13), (113.25, 0.98), (113.7, 0.95), (114.1, 0.9), (114.45, 0.87),
            (114.9, 1.16), (115.35, 1.02), (116.6, 1.04), (117.0, 1.16), (117.35, 1.09), (117.95, 0.91),
            (118.85, 0.74), (120.05, 0.82), (121.3, 0.91), (121.8, 0.82), (123.0, 0.96), (124.3, 0.93),
            (125.35, 0.91), (126.55, 0.98), (126.85, 0.93), (127.3, 0.88), (127.8, 0.96), (128.1, 1.01),
            (128.4, 0.64), (128.65, 0.93), (129.0, 1.02), (129.2, 0.64), (129.45, 0.82), (129.75, 0.6),
            (130.0, 0.98), (130.3, 0.48), (130.45, 0.19), (130.7, 0.23), (131.05, 0.26), (131.4, 0.33),
            (131.6, 0.36), (132.1, 0.51), (132.3, 0.48), (132.4, 0.95), (132.5, 0.51), (132.75, 0.54),
            (133.05, 0.51), (135.9, 1.04)]

insolation = [(105.0, 526), (105.85, 524.3), (106.75, 521), (107.95, 510.4), (109.2, 496.6), (110.4, 481),
              (111.6, 467), (112.8, 456), (114.1, 448), (115.2, 443.4), (116.1, 442.7), (117.05, 444.5),
              (118.25, 451.4), (119.45, 465.3), (120.65, 481), (121.3, 490.6), (122.5, 507), (123.7, 522.6),
              (124.55, 531.3), (125.8, 538.2), (127.0, 541.7), (127.8, 541.7), (128.85, 538.2), (129.75, 533),
              (130.45, 527.8), (131.55, 517.4), (132.75, 501.8), (133.95, 487.8), (135.15, 478), (136.0, 474)]

# ---------------- layout (pixels of the 649x1590 picture) ----------------
W, H = 649, 1590
XL, XR = 76, 568
AXIS_Y = 1510
LSP = (93 - XL) / (XR - XL)
RSP = (572 - XL) / (XR - XL)

fig = plt.figure(figsize=(W / 100, H / 100), dpi=100)


def fax(top, bot):
    return fig.add_axes([XL / W, 1 - bot / H, (XR - XL) / W, (bot - top) / H])


# background: bands and event lines
bg = fax(34, AXIS_Y)
bg.set_xlim(102, 138)
bg.set_ylim(0, 1)
bg.axis('off')
for a0, a1 in bands:
    bg.axvspan(a0, a1, color='#ccccff', lw=0)
span = AXIS_Y - 34
ya_top = 13 / span
for a in events:
    bg.plot([a, a], [ya_top, 1], color='#0000ff', lw=1.8, ls=(0, (3, 1.6)))
    bg.plot(a, 6 / span, marker='v', ms=10, mfc='white', mec='black', mew=1.3, clip_on=False)
    bg.plot([a, a], [2 / span, ya_top], color='black', lw=1)
for lab, a in zip(event_labels, event_label_ages):
    bg.text(a, 18 / span, lab, rotation=90, ha='center', va='bottom', color='#0000ff', fontsize=13,
            fontweight='bold', style='italic' if lab == 'H11' else 'normal')

# MIS boxes
mis = fax(10, 34)
mis.set_xlim(102, 138)
mis.set_ylim(0, 1)
mis.axis('off')
for name, (a0, a1), c in zip(mis_names, mis_spans, mis_colors):
    mis.add_patch(Rectangle((a0, 0), a1 - a0, 1, fc=c, ec='none', clip_on=False))
    mis.text((a0 + a1) / 2, 0.45, name, ha='center', va='center', fontsize=16, family='Liberation Serif',
             clip_on=False)


def panel(top, bot, vtop, vbot, side, ticks, labels, minor=None):
    ax = fax(top, bot)
    ax.set_xlim(102, 138)
    ax.set_ylim(vbot, vtop)
    ax.patch.set_visible(False)
    for s in ax.spines.values():
        s.set_visible(False)
    ax.set_xticks([])
    sp = ax.spines[side]
    sp.set_visible(True)
    sp.set_position(('axes', LSP if side == 'left' else RSP))
    sp.set_linewidth(1)
    ax.yaxis.set_ticks_position(side)
    ax.set_yticks(ticks, labels=labels)
    if minor:
        ax.set_yticks(minor, minor=True)
    ax.tick_params(axis='y', which='major', direction='out', length=7, width=1, labelsize=11, pad=2)
    ax.tick_params(axis='y', which='minor', direction='out', length=5, width=1)
    return ax


def draw(ax, pts, color, lw=1.5, **kw):
    x, y = zip(*pts)
    ax.plot(x, y, color=color, lw=lw, clip_on=False, **kw)


p1 = panel(48, 193, 0, 100, 'right', [0, 50, 100], ['0', '50', '100'])
draw(p1, np980s, '#6a6aff', marker='d', ms=3.2, mfc='none', mec='black', mew=0.7)

p2 = panel(110, 252, 0, 100, 'left', [0, 50, 100], ['0', '50', '100'])
draw(p2, np984s, '#12125e', marker='d', ms=2.6, mfc='black', mec='black')

p3 = panel(252, 395, 0, 2000, 'right', [0, 1000, 2000], ['0', '1000', '2000'], minor=[500, 1500])
draw(p3, ird980, '#c00000', marker='+', ms=3, mew=0.6)

p4 = panel(353, 497, 0, 100, 'left', [0, 50, 100], ['0', '50', '100'])
draw(p4, ird984, '#9a4a12', marker='.', ms=2.5)

p5 = panel(427, 569, 0, 40, 'right', [0, 20, 40], ['0', '', '40'])
draw(p5, tq980_raw, '#9a9a9a', lw=1.2)
draw(p5, tq980_smooth, '#b040d8', lw=1.7)

p6 = panel(564, 717, 0, 70, 'left', [0, 35, 70], ['0', '35', '70'])
draw(p6, tq984_raw, '#9a9a9a', lw=1.2)
draw(p6, tq984_smooth, '#6c0a5c', lw=1.9)

p7 = panel(657, 801, 50, 0, 'right', [0, 25, 50], ['0', '', '50'])
draw(p7, np980d_raw, '#b0b0b0', lw=1.2)
draw(p7, np980d_smooth, '#22a022', lw=1.7)

p8 = panel(744, 887, 50, 0, 'left', [0, 25, 50], ['0', '', '50'])
draw(p8, np984d_raw, '#9a9a9a', lw=1.2)
draw(p8, np984d_smooth, '#1a6b30', lw=1.9)

p9 = panel(831, 1120, 0.6, 4.2, 'right', [0.6, 1.8, 3.0, 4.2], ['0.6', '1.8', '3', '4.2'], minor=[1.2, 2.4, 3.6])
p9.tick_params(axis='y', which='minor', length=7)
draw(p9, d18o_raw_tq, '#5a5a5a', lw=1.1)
draw(p9, d18o_raw_npd, '#5a5a5a', lw=1.1)
draw(p9, d18o_raw_nps, '#5a5a5a', lw=1.1)
draw(p9, d18o_tq, '#ff2cff', lw=1.7)
draw(p9, d18o_npd, '#22a022', lw=1.7)
draw(p9, d18o_nps, '#1020ff', lw=1.7)

p10 = panel(1090, 1233, 2.5, 4.5, 'left', [2.5, 3, 3.5, 4, 4.5], ['2.5', '3', '3.5', '4', '4.5'],
            minor=[2.75, 3.25, 3.75, 4.25])
draw(p10, benth_cw, '#ec6a2c', marker='+', ms=4, mec='black', mew=0.8)
draw(p10, benth_984, 'black', lw=1.6)

p11 = panel(1236, 1365, 1.2, 0, 'right', [0, 0.4, 0.8, 1.2], ['0', '0.4', '0.8', '1.2'], minor=[0.2, 0.6, 1.0])
draw(p11, d13c_cw, '#ec6a2c', marker='+', ms=4.5, mec='black', mew=0.8)
draw(p11, d13c_984, 'black', lw=1.6, marker='+', ms=4.5, mew=0.8)

p12 = panel(1337, 1433, 550, 450, 'left', [450, 500, 550], ['450', '500', '550'])
draw(p12, insolation, '#ff9a22', lw=1.8)

# bottom age axis
axx = fig.add_axes([XL / W, 1 - AXIS_Y / H, (XR - XL) / W, 0.5 / H])
axx.set_xlim(102, 138)
axx.patch.set_visible(False)
for k in ['top', 'left', 'right']:
    axx.spines[k].set_visible(False)
axx.set_yticks([])
axx.set_xticks(range(105, 136, 5))
axx.set_xticks(range(102, 139), minor=True)
axx.tick_params(axis='x', which='major', direction='out', length=8, width=1, labelsize=16, pad=6)
axx.tick_params(axis='x', which='minor', direction='out', length=5.5, width=1)
fig.text((XL + XR) / 2 / W, 1 - 1574 / H, 'Age (ka BP)', ha='center', va='center', fontsize=16)

# ---------------- rotated axis titles ----------------
renderer = fig.canvas.get_renderer()


def vtext(xc, yc, pieces, size=11.5):
    objs = []
    for s, c in pieces:
        objs.append(fig.text(0, 0, s, color=c, fontsize=size, rotation=90, rotation_mode='anchor',
                             ha='left', va='baseline'))
    gap = 0.28 * size * 100 / 72
    hs = [t.get_window_extent(renderer).height for t in objs]
    total = sum(hs) + gap * (len(objs) - 1)
    y = (H - yc) - total / 2
    xb = xc + 0.34 * size * 100 / 72
    for t, h in zip(objs, hs):
        t.set_position((xb / W, y / H))
        y += h + gap


NAVY, BROWN = '#14147a', '#8b4513'
vtext(45, 176, [(r'% $\mathit{N.\ pachyderma\ (s.)}$ (ODP 984)', NAVY)])
vtext(41, 432, [('IRD %(ODP 984)', BROWN)])
vtext(38, 639, [(r'% $\mathit{T.\ quinqueloba}$', '#7a0a6a')])
vtext(56, 639, [('(ODP 984)', '#7a0a6a')])
vtext(38, 822, [(r'% $\mathit{N.\ pachyderma\ (d.)}$', '#1a7a3a')])
vtext(56, 822, [('(ODP 984)', '#1a7a3a')])
vtext(27, 1170, [(r'$\delta^{18}$O in Benthic (ODP 984)', 'black')], size=11)
vtext(48, 1155, [(r'$\delta^{18}$O in $\mathit{C.wuellestorfi}$ (ODP 980)', '#ec6a2c')], size=11)
vtext(29, 1390, [('Insolation - June 60°N', '#ff9a22')], size=11)
vtext(46, 1380, [(r'(W.m$^{-2}$)', '#ff9a22')], size=11)

vtext(616, 113, [(r'% $\mathit{N.\ pachyderma\ (s.)}$', '#7070ff')])
vtext(634, 108, [('(ODP 980)', '#7070ff')])
vtext(637, 318, [('IRD Lith/g (ODP 980)', '#c00000')])
vtext(616, 500, [(r'% $\mathit{T.\ quinqueloba}$', '#a040c8')])
vtext(634, 495, [('(ODP 980)', '#a040c8')])
vtext(617, 734, [(r'% $\mathit{N.pachyderma\ (d.)}$', '#22a022')])
vtext(635, 731, [('(ODP 980)', '#22a022')])
vtext(622, 960, [('δ18O (ODP 984) in', 'black'), (r'$\mathit{T.\ quinqueloba}$', '#ff2cff')], size=10.5)
vtext(638, 985, [(r'$\mathit{N.\ pachyderma\ (d.)}$', '#22a022'), ('and', 'black'),
                 (r'$\mathit{N.\ pachyderma\ (s.)}$', '#1020ff')], size=10.5)
vtext(614, 1334, [(r'δ13C in $\mathit{Cibicidoides\ spp}$ (ODP 984)', 'black')], size=10.5)
vtext(631, 1335, [(r'δ13C in $\mathit{C.\ wuellestorfi}$ (ODP 980)', '#ec6a2c')], size=10.5)

fig.savefig('out.png', dpi=100)
